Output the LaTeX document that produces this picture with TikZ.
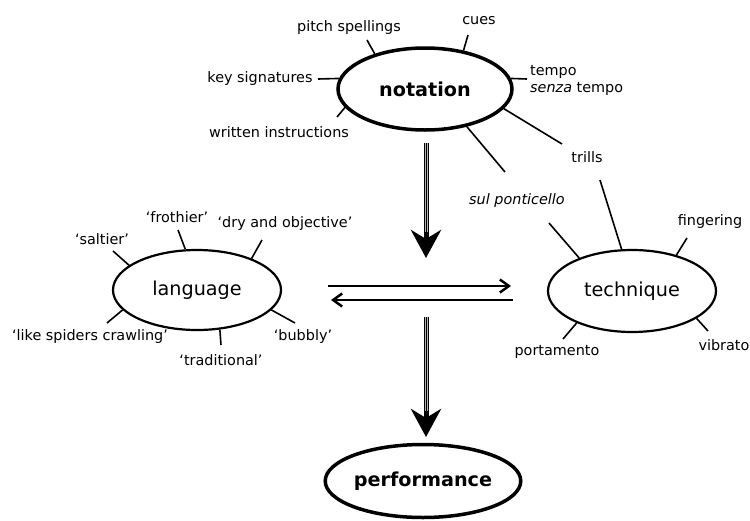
\documentclass[tikz,border=0pt]{standalone}
\usepackage{fontspec}
\setmainfont{DejaVu Sans}
\usetikzlibrary{arrows.meta,shapes.geometric}
\begin{document}
\begin{tikzpicture}[x=1pt,y=-1pt,
  lbl/.style={font=\fontsize{14.4}{17}\selectfont, inner sep=0pt},
  big/.style={ellipse, draw, inner sep=0pt, font=\fontsize{19.2}{21}\selectfont},
  bigb/.style={big, line width=3.5pt, font=\fontsize{19.2}{21}\selectfont\bfseries},
  bign/.style={big, line width=2.2pt},
  spoke/.style={line width=1.6pt},
  flow/.style={line width=2.5pt, -{Straight Barb[length=9pt,width=13pt]}},
  down/.style={line width=5pt, -{Stealth[length=28pt,width=30pt,inset=9pt]}},
  stripe/.style={line width=0.5pt, gray!60}
]
\useasboundingbox (0,0) rectangle (750,520);

% main ellipses
\node[bigb, minimum width=174pt, minimum height=82pt] (notation) at (425,89) {notation};
\node[bign, minimum width=168pt, minimum height=80pt] (language) at (197,290) {language};
\node[bign, minimum width=168pt, minimum height=82pt] (technique) at (632,291) {technique};
\node[bigb, minimum width=170pt, minimum height=73pt] (performance) at (423,481) {performance};

% notation labels
\node[lbl] (pitch) at (349,28) {pitch spellings};
\node[lbl] (cues) at (479,21) {cues};
\node[lbl] (keysig) at (260,79) {key signatures};
\node[lbl] (written) at (279,132) {written instructions};
\node[lbl, anchor=west, align=left] (tempo) at (530,80) {tempo\\\textit{senza} tempo};
\node[lbl] (trills) at (587,157) {trills};
\node[lbl] (sul) at (517,201) {\textit{sul ponticello}};

\coordinate (cpitch) at (367,40);
\coordinate (ccues) at (468,35);
\coordinate (ckey) at (318,79);
\coordinate (cwrit) at (337,117);
\coordinate (ctempo) at (527,79);
\coordinate (ctrillsA) at (562,144);
\coordinate (csulA) at (505,172);

\draw[spoke] (notation.145) -- (cpitch);
\draw[spoke] (notation.45) -- (ccues);
\draw[spoke] (notation.173) -- (ckey);
\draw[spoke] (notation.193) -- (cwrit);
\draw[spoke] (notation.7) -- (ctempo);
\draw[spoke] (notation.-14) -- (ctrillsA);
\draw[spoke] (notation.-42) -- (csulA);

% technique labels
\node[lbl] (fing) at (710,222) {fingering};
\node[lbl] (vib) at (724,345) {vibrato};
\node[lbl] (port) at (557,352) {portamento};

\coordinate (csulB) at (549,223);
\coordinate (ctrillsB) at (600,180);
\coordinate (cfing) at (687,238);
\coordinate (cvib) at (708,331);
\coordinate (cport) at (563,339);

\draw[spoke] (technique.148) -- (csulB);
\draw[spoke] (technique.104) -- (ctrillsB);
\draw[spoke] (technique.39) -- (cfing);
\draw[spoke] (technique.-23) -- (cvib);
\draw[spoke] (technique.210) -- (cport);

% language labels
\node[lbl] (salt) at (102,239) {‘saltier’};
\node[lbl] (froth) at (177,217) {‘frothier’};
\node[lbl] (dry) at (285,224) {‘dry and objective’};
\node[lbl] (spid) at (90,337) {‘like spiders crawling’};
\node[lbl] (trad) at (221,360) {‘traditional’};
\node[lbl] (bub) at (303,337) {‘bubbly’};

\coordinate (csalt) at (113,251);
\coordinate (cfroth) at (178,230);
\coordinate (cdry) at (262,240);
\coordinate (cspid) at (107,323);
\coordinate (ctrad) at (221,345);
\coordinate (cbub) at (295,323);

\draw[spoke] (language.160) -- (csalt);
\draw[spoke] (language.106) -- (cfroth);
\draw[spoke] (language.30) -- (cdry);
\draw[spoke] (language.195) -- (cspid);
\draw[spoke] (language.-60) -- (ctrad);
\draw[spoke] (language.-15) -- (cbub);

% vertical arrows
\coordinate (a1s) at (426,143);
\coordinate (a1m) at (426,232);
\coordinate (a1e) at (426,258);
\coordinate (a2s) at (426,317);
\coordinate (a2m) at (426,411);
\coordinate (a2e) at (426,437);
\draw[down] (a1s) -- (a1e);
\draw[down] (a2s) -- (a2e);
\draw[stripe] ([xshift=-0.9pt]a1s) -- ([xshift=-0.9pt]a1m);
\draw[stripe] ([xshift=0.9pt]a1s) -- ([xshift=0.9pt]a1m);
\draw[stripe] ([xshift=-0.9pt]a2s) -- ([xshift=-0.9pt]a2m);
\draw[stripe] ([xshift=0.9pt]a2s) -- ([xshift=0.9pt]a2m);

% horizontal arrows
\coordinate (h1s) at (328,286);
\coordinate (h1e) at (511,286);
\coordinate (h2s) at (513,300);
\coordinate (h2e) at (331,300);
\draw[flow] (h1s) -- (h1e);
\draw[flow] (h2s) -- (h2e);
\end{tikzpicture}
\end{document}
